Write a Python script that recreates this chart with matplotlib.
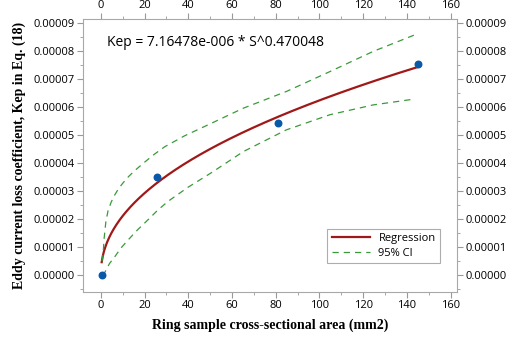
import matplotlib
matplotlib.use("Agg")
import matplotlib.pyplot as plt
import numpy as np
from matplotlib.ticker import MultipleLocator, FormatStrFormatter

# measured points
area = [0.5, 25.5, 81.0, 145.0]
kep = [0.0, 3.5e-5, 5.45e-5, 7.55e-5]

# fitted power law shown on the chart
coef_a = 7.16478e-6
coef_b = 0.470048

# 95% CI bands
up_x = [0.5, 1.05, 1.5, 2.3, 3.3, 4.8, 6.4, 8.2, 10.2, 12.8, 15.6, 20.1, 24.5, 29.3, 38.4, 49.1,
        65.1, 84.9, 104.8, 124.6, 143.6]
up_y = [0.5e-5, 0.75e-5, 1.3e-5, 1.9e-5, 2.3e-5, 2.62e-5, 2.87e-5, 3.1e-5, 3.3e-5, 3.53e-5,
        3.74e-5, 4.04e-5, 4.32e-5, 4.59e-5, 4.98e-5, 5.37e-5, 5.96e-5, 6.56e-5, 7.27e-5,
        7.99e-5, 8.58e-5]
lo_x = [0.5, 1.8, 4.0, 6.4, 9.2, 12.5, 16.8, 21.6, 26.0, 30.8, 39.9, 50.6, 65.1, 84.9, 104.8,
        124.6, 143.6]
lo_y = [0.0, 0.1e-5, 0.42e-5, 0.66e-5, 0.97e-5, 1.26e-5, 1.62e-5, 1.98e-5, 2.32e-5, 2.64e-5,
        3.14e-5, 3.66e-5, 4.41e-5, 5.19e-5, 5.73e-5, 6.08e-5, 6.29e-5]

plt.rcParams["font.family"] = ["Open Sans", "DejaVu Sans"]

fig = plt.figure(figsize=(5.18, 3.38), dpi=100)
ax = fig.add_axes([0.160, 0.136, 0.722, 0.808])

s = np.linspace(0.4, 145, 300)
ax.plot(s, coef_a * s ** coef_b, color="#a01818", lw=1.6, label="Regression")
ax.plot(up_x, up_y, color="#3a9a3a", lw=0.9, ls=(0, (5, 4)), label="95% CI")
ax.plot(lo_x, lo_y, color="#3a9a3a", lw=0.9, ls=(0, (5, 4)))
ax.scatter(area, kep, color="#0a58a8", s=22, zorder=5)

ax.set_xlim(-8.2, 162.9)
ax.set_ylim(-0.6e-5, 9.15e-5)
ax.xaxis.set_major_locator(MultipleLocator(20))
ax.xaxis.set_minor_locator(MultipleLocator(10))
ax.yaxis.set_major_locator(MultipleLocator(1e-5))
ax.yaxis.set_minor_locator(MultipleLocator(0.5e-5))
ax.yaxis.set_major_formatter(FormatStrFormatter("%.5f"))

ax.tick_params(which="both", direction="out", top=True, right=True,
               labeltop=True, labelright=True, color="#999999",
               labelsize=8, pad=2)
ax.tick_params(which="major", length=4)
ax.tick_params(which="minor", length=2.5)
for sp in ax.spines.values():
    sp.set_color("#a8a8a8")

ax.text(2.7, 8.3e-5, "Kep = 7.16478e-006 * S^0.470048", fontsize=10,
        va="center", ha="left")

ax.set_xlabel("Ring sample cross-sectional area (mm2)", family="Liberation Serif",
              fontweight="bold", fontsize=10, labelpad=5)
ax.set_ylabel("Eddy current loss coefficient, Kep in Eq. (18)", family="Liberation Serif",
              fontweight="bold", fontsize=10, labelpad=5)

leg = ax.legend(loc="lower right", bbox_to_anchor=(0.955, 0.106), fontsize=8,
                frameon=True, fancybox=False, handlelength=3.4, borderpad=0.4,
                labelspacing=0.3, borderaxespad=0)
leg.get_frame().set_edgecolor("#999999")
leg.get_frame().set_linewidth(0.8)

fig.savefig("out.png", dpi=100)
